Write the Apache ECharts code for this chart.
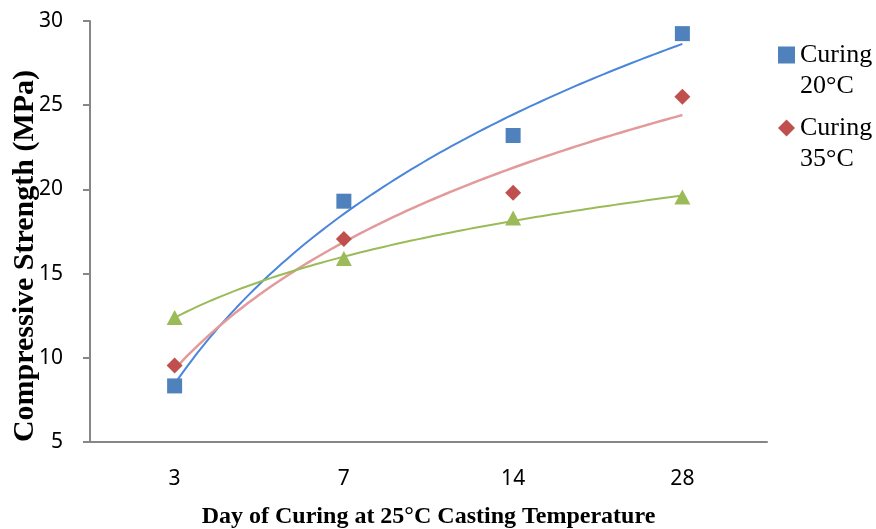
<!DOCTYPE html>
<html>
<head>
<meta charset="utf-8">
<script src="https://cdn.jsdelivr.net/npm/echarts@6/dist/echarts.min.js"></script>
<style>html,body{margin:0;padding:0;background:#fff;}#c{width:876px;height:529px;}</style>
</head>
<body>
<div id="c"></div>
<script>
var categories = ['3', '7', '14', '28'];
var seriesNames = ['Curing 20°C', 'Curing 35°C', 'Curing (third)'];
var curing20 = [8.33, 19.3, 23.2, 29.25];
var curing35 = [9.55, 17.05, 19.8, 25.5];
var curingThird = [12.4, 15.9, 18.3, 19.55];
var yTicks = {min: 5, max: 30, interval: 5};

// Logarithmic least-squares trendline (as in the spreadsheet) over category positions 1..n
function logFit(values) {
  var n = values.length, sx = 0, sy = 0, sxx = 0, sxy = 0;
  for (var i = 0; i < n; i++) {
    var lx = Math.log(i + 1);
    sx += lx; sy += values[i]; sxx += lx * lx; sxy += lx * values[i];
  }
  var b = (n * sxy - sx * sy) / (n * sxx - sx * sx);
  var a = (sy - b * sx) / n;
  var pts = [];
  var steps = 90;
  for (var k = 0; k <= steps; k++) {
    var x = 1 + (n - 1) * k / steps;
    pts.push([x, a + b * Math.log(x)]);
  }
  return pts;
}

var serif = '"Liberation Serif", "Times New Roman", serif';
var sans = '"Noto Sans", "Open Sans", sans-serif';
var axisColor = '#868686';

var chart = echarts.init(document.getElementById('c'));
chart.setOption({
  animation: false,
  backgroundColor: '#ffffff',
  grid: {left: 90, right: 109, top: 21, bottom: 87, containLabel: false, outerBoundsMode: 'none'},
  legend: {
    data: [seriesNames[0], seriesNames[1]],
    orient: 'vertical',
    left: 778,
    top: 8.5,
    padding: 0,
    itemGap: -20,
    itemWidth: 17,
    itemHeight: 17,
    selectedMode: false,
    formatter: function (name) { return ' \n' + name.replace(' ', '\n'); },
    textStyle: {fontFamily: serif, fontSize: 26, lineHeight: 31, color: '#000'}
  },
  xAxis: [{
    type: 'category',
    data: categories,
    boundaryGap: true,
    name: 'Day of Curing at 25°C Casting Temperature',
    nameLocation: 'middle',
    nameGap: 63,
    nameMoveOverlap: false,
    nameTextStyle: {fontFamily: serif, fontSize: 24, fontWeight: 'bold', color: '#000'},
    axisLine: {lineStyle: {color: axisColor, width: 2}},
    axisTick: {show: false},
    axisLabel: {fontFamily: sans, fontSize: 21, color: '#000', margin: 27},
    splitLine: {show: false}
  }, {
    type: 'value',
    min: 0.5,
    max: 4.5,
    show: false
  }],
  yAxis: {
    type: 'value',
    min: yTicks.min,
    max: yTicks.max,
    interval: yTicks.interval,
    name: 'Compressive Strength (MPa)',
    nameLocation: 'middle',
    nameGap: 50,
    nameMoveOverlap: false,
    nameTextStyle: {fontFamily: serif, fontSize: 30, fontWeight: 'bold', color: '#000', padding: [0, 49, 0, 0]},
    axisLine: {show: true, lineStyle: {color: axisColor, width: 2}},
    axisTick: {show: true, length: 7, lineStyle: {color: axisColor, width: 2}},
    axisLabel: {fontFamily: sans, fontSize: 21, color: '#000', margin: 27},
    splitLine: {show: false}
  },
  series: [
    {name: 'trend20', type: 'line', xAxisIndex: 1, data: logFit(curing20), showSymbol: false, silent: true,
     lineStyle: {color: '#4A86DB', width: 2}, z: 2},
    {name: 'trend35', type: 'line', xAxisIndex: 1, data: logFit(curing35), showSymbol: false, silent: true,
     lineStyle: {color: '#E39A9A', width: 2.5}, z: 2},
    {name: 'trendThird', type: 'line', xAxisIndex: 1, data: logFit(curingThird), showSymbol: false, silent: true,
     lineStyle: {color: '#9BBB59', width: 2}, z: 2},
    {name: seriesNames[0], type: 'scatter', xAxisIndex: 0, data: curing20, symbol: 'rect', symbolSize: 15,
     itemStyle: {color: '#4F81BD', opacity: 1}, z: 5},
    {name: seriesNames[1], type: 'scatter', xAxisIndex: 0, data: curing35, symbol: 'diamond', symbolSize: [16, 16],
     itemStyle: {color: '#C0504D', opacity: 1}, z: 5},
    {name: seriesNames[2], type: 'scatter', xAxisIndex: 0, data: curingThird, symbol: 'triangle', symbolSize: [16, 15],
     itemStyle: {color: '#9BBB59', opacity: 1}, z: 5}
  ]
});
</script>
</body>
</html>
